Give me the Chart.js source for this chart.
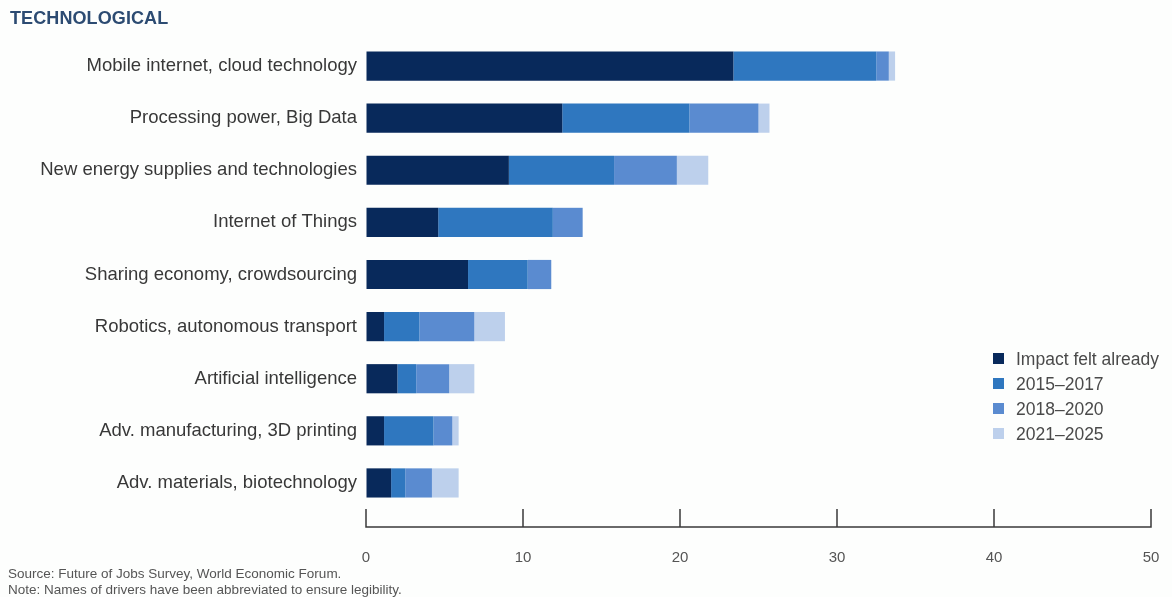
<!DOCTYPE html>
<html>
<head>
<meta charset="utf-8">
<script src="https://cdn.jsdelivr.net/npm/chart.js@4.4.1/dist/chart.umd.min.js"></script>
<style>
  html, body { margin: 0; padding: 0; background: #fdfefd; }
  #wrap { position: relative; width: 1172px; height: 597px; overflow: hidden; font-family: "Liberation Sans", Arial, sans-serif; }
  #chartBox { position: absolute; left: 0; top: 0; width: 1172px; height: 597px; }
  #title { position: absolute; left: 10px; top: 8px; font-size: 18px; font-weight: bold; color: #2c4b72; letter-spacing: 0.1px; }
  #legend { position: absolute; left: 993px; top: 346px; font-size: 17.5px; color: #4a4a4a; }
  #legend .item { height: 25px; line-height: 20px; display: flex; align-items: center; }
  #legend .sw { width: 11px; height: 11px; margin-right: 12px; }
  #foot { position: absolute; left: 8px; top: 566px; font-size: 13.5px; color: #555; line-height: 16px; }
</style>
</head>
<body>
<div id="wrap">
  <div id="chartBox"><canvas id="c"></canvas></div>
  <div id="title">TECHNOLOGICAL</div>
  <div id="legend"></div>
  <div id="foot">Source: Future of Jobs Survey, World Economic Forum.<br>Note: Names of drivers have been abbreviated to ensure legibility.</div>
</div>
<script>
const categories = [
  "Mobile internet, cloud technology",
  "Processing power, Big Data",
  "New energy supplies and technologies",
  "Internet of Things",
  "Sharing economy, crowdsourcing",
  "Robotics, autonomous transport",
  "Artificial intelligence",
  "Adv. manufacturing, 3D printing",
  "Adv. materials, biotechnology"
];
const seriesNames = ["Impact felt already", "2015–2017", "2018–2020", "2021–2025"];
const impactFelt = [23.4, 12.5, 9.1, 4.6, 6.5, 1.15, 2.0, 1.15, 1.6];
const y2015_2017 = [9.1, 8.1, 6.7, 7.3, 3.8, 2.25, 1.2, 3.15, 0.9];
const y2018_2020 = [0.8, 4.4, 4.0, 1.9, 1.5, 3.5, 2.1, 1.2, 1.7];
const y2021_2025 = [0.4, 0.7, 2.0, 0, 0, 1.95, 1.6, 0.4, 1.7];
const xTickValues = [0, 10, 20, 30, 40, 50];

const colors = ["#08295b", "#2f77bf", "#5a8bd0", "#bdd0ec"];
const seriesData = [impactFelt, y2015_2017, y2018_2020, y2021_2025];

// legend (HTML)
const lg = document.getElementById('legend');
seriesNames.forEach((n, i) => {
  const d = document.createElement('div'); d.className = 'item';
  const s = document.createElement('span'); s.className = 'sw'; s.style.background = colors[i];
  const t = document.createElement('span'); t.textContent = n;
  d.appendChild(s); d.appendChild(t); lg.appendChild(d);
});

const MARK_LEN = 18;
const axisLinePlugin = {
  id: 'axisLine',
  afterDraw(chart) {
    const x = chart.scales.x;
    const ctx = chart.ctx;
    const top = chart.chartArea.bottom;
    const y = top + MARK_LEN;
    ctx.save();
    ctx.strokeStyle = '#3a3a3a';
    ctx.lineWidth = 1.5;
    ctx.beginPath();
    ctx.moveTo(x.getPixelForValue(0) - 0.75, y);
    ctx.lineTo(x.getPixelForValue(50) + 0.75, y);
    x.ticks.forEach(t => {
      const px = Math.round(x.getPixelForValue(t.value));
      ctx.moveTo(px, top);
      ctx.lineTo(px, y);
    });
    ctx.stroke();
    ctx.restore();
  }
};

new Chart(document.getElementById('c'), {
  type: 'bar',
  data: {
    labels: categories,
    datasets: seriesNames.map((n, i) => ({
      label: n,
      data: seriesData[i],
      backgroundColor: colors[i],
      borderWidth: 0,
      categoryPercentage: 1.0,
      barPercentage: 0.56
    }))
  },
  options: {
    indexAxis: 'y',
    responsive: true,
    maintainAspectRatio: false,
    animation: false,
    layout: { padding: { top: 40, right: 21, bottom: 25, left: 0 } },
    plugins: { legend: { display: false }, tooltip: { enabled: false } },
    scales: {
      x: {
        stacked: true,
        min: 0, max: 50,
        afterBuildTicks: (s) => { s.ticks = xTickValues.map(v => ({ value: v })); },
        border: { display: false },
        grid: { drawOnChartArea: false, drawTicks: true, tickLength: 35, color: 'rgba(0,0,0,0)' },
        ticks: { padding: 5, color: '#555', font: { family: '"Liberation Sans", Arial, sans-serif', size: 15 }, maxRotation: 0 }
      },
      y: {
        stacked: true,
        afterFit: (s) => { s.width = 366; },
        border: { display: false },
        grid: { display: false, drawTicks: false },
        ticks: { padding: 9, color: '#383838', font: { family: '"Liberation Sans", Arial, sans-serif', size: 18.5 } }
      }
    }
  },
  plugins: [axisLinePlugin]
});
</script>
</body>
</html>
